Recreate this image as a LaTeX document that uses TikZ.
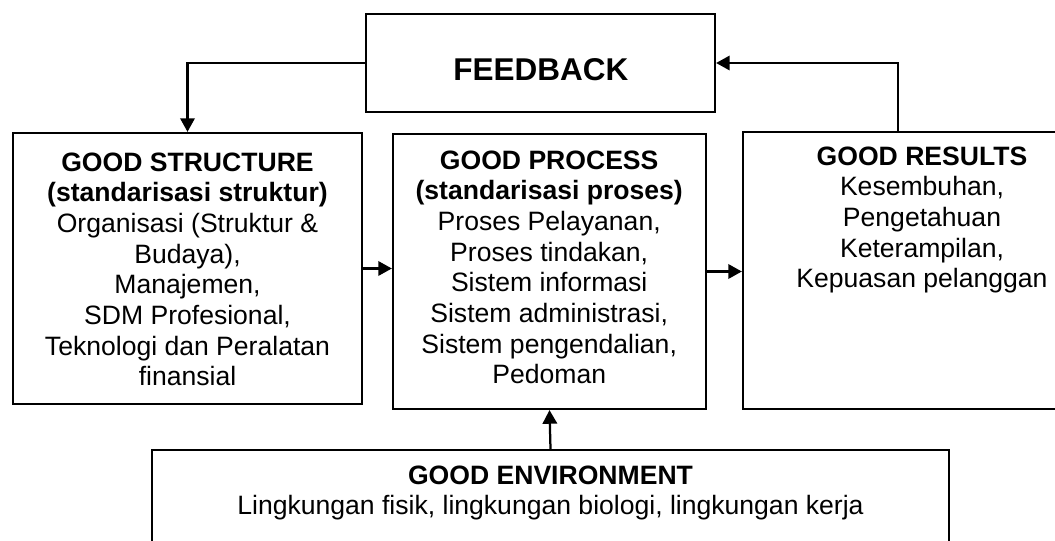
\documentclass[tikz,border=0pt]{standalone}
\usepackage{fontspec}
\setmainfont{Liberation Sans}
\usetikzlibrary{arrows.meta, positioning, calc}

\begin{document}
\begin{tikzpicture}[
    x=1cm, y=1cm,
    every node/.style={font=\rmfamily, align=center, text=black},
    arr/.style={-{Triangle[length=0.34cm, width=0.36cm]}, line width=1.6pt, draw=black},
    plainbox/.style={
      rectangle, draw=black, line width=1.6pt,
      fill=white, inner sep=0pt
    },
    boxtxt/.style={
      font=\fontsize{18.9pt}{21.8pt}\selectfont,
      inner sep=0pt, anchor=north
    },
    bigtxt/.style={font=\bfseries\fontsize{22.4pt}{26pt}\selectfont, inner sep=0pt}
  ]

    \useasboundingbox (0,0) rectangle (26.375,13.5);
    \clip (0,0) rectangle (26.375,13.5);

    % Feedback box on top
    \node[plainbox, minimum width=8.725cm, minimum height=2.45cm] (feedback) at (13.5125,11.925) {};
    \node[bigtxt] (feedbacktxt) at (13.52,11.75) {FEEDBACK};

    % Three boxes in a row
    \node[plainbox, minimum width=8.725cm, minimum height=6.775cm] (structure) at (4.6875,6.7875) {};
    \node[plainbox, minimum width=7.825cm, minimum height=6.875cm] (process) at (13.7375,6.7125) {};
    \node[plainbox, minimum width=8.95cm, minimum height=6.925cm] (results) at (23.05,6.7375) {};

    \node[boxtxt] (structuretxt) at (4.6875,9.6875)
      {\textbf{GOOD STRUCTURE}\\\textbf{(standarisasi struktur)}\\Organisasi (Struktur \&\\Budaya),\\Manajemen,\\SDM Profesional,\\Teknologi dan Peralatan\\finansial};

    \node[boxtxt] (processtxt) at (13.73,9.7375)
      {\textbf{GOOD PROCESS}\\\textbf{(standarisasi proses)}\\Proses Pelayanan,\\Proses tindakan,\\Sistem informasi\\Sistem administrasi,\\Sistem pengendalian,\\Pedoman};

    \node[boxtxt] (resultstxt) at (23.05,9.8375)
      {\textbf{GOOD RESULTS}\\Kesembuhan,\\Pengetahuan\\Keterampilan,\\Kepuasan pelanggan};

    % Environment box at the bottom
    \node[plainbox, minimum width=19.925cm, minimum height=4cm] (environment) at (13.7625,0.25) {};
    \node[boxtxt] (environmenttxt) at (13.7625,1.8625)
      {\textbf{GOOD ENVIRONMENT}\\Lingkungan fisik, lingkungan biologi, lingkungan kerja};

    \coordinate (resultstap) at ($(results.north)+(-0.6,0)$);

    \draw[arr] (feedback.west) -| (structure.north);
    \draw[arr] (resultstap) |- (feedback.east);
    \draw[arr] (structure.east) -- (process.west |- structure.east);
    \draw[arr] (process.east) -- (results.west |- process.east);
    \draw[arr] (environment.north) -- (process.south);

  \end{tikzpicture}
\end{document}
